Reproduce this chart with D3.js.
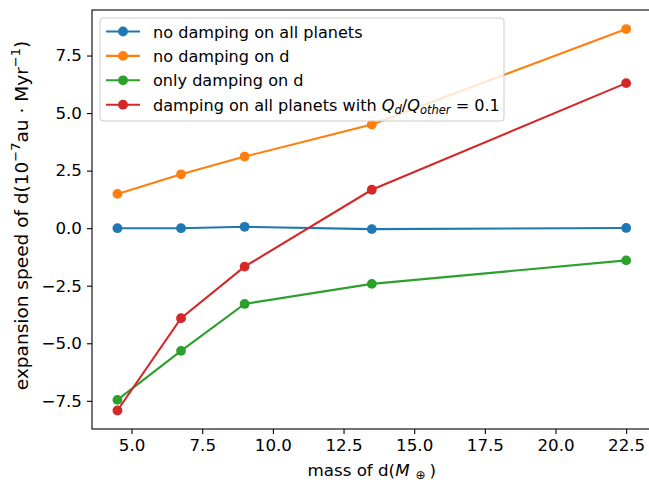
<!DOCTYPE html>
<html>
<head>
<meta charset="utf-8">
<script src="https://cdn.jsdelivr.net/npm/d3@7"></script>
<style>
  html, body { margin: 0; padding: 0; background: #fff; }
  svg { display: block; font-family: "DejaVu Sans", sans-serif; }
</style>
</head>
<body>
<svg id="chart" width="649" height="484"></svg>
<script>
const masses = [4.5, 6.75, 9, 13.5, 22.5];
const noDampAll = [0.0, 0.0, 0.06, -0.04, 0.01];
const noDampD = [1.49, 2.34, 3.11, 4.50, 8.65];
const onlyDampD = [-7.46, -5.33, -3.29, -2.42, -1.40];
const dampAll = [-7.92, -3.91, -1.67, 1.67, 6.30];
const xTicks = [5.0, 7.5, 10.0, 12.5, 15.0, 17.5, 20.0, 22.5];
const yTicks = [-7.5, -5.0, -2.5, 0.0, 2.5, 5.0, 7.5];
const seriesNames = ["no damping on all planets", "no damping on d", "only damping on d", "damping on all planets with"];
const seriesColors = ["#1f77b4", "#ff7f0e", "#2ca02c", "#d62728"];
const seriesValues = [noDampAll, noDampD, onlyDampD, dampAll];

const svg = d3.select("#chart");
const pLeft = 92, pRight = 651.6, pTop = 10, pBottom = 429;

const x = d3.scaleLinear().domain([3.6, 23.4]).range([pLeft, pRight]);
const y = d3.scaleLinear().domain([-8.724, 9.478]).range([pBottom, pTop]);

// frame
svg.append("rect").attr("x", pLeft).attr("y", pTop)
  .attr("width", pRight - pLeft).attr("height", pBottom - pTop)
  .attr("fill", "none").attr("stroke", "#000").attr("stroke-width", 1.1);

// axes
const xAxis = d3.axisBottom(x).tickValues(xTicks).tickFormat(d3.format(".1f")).tickSizeOuter(0).tickSize(5).tickPadding(5);
const gx = svg.append("g").attr("transform", `translate(0,${pBottom})`).call(xAxis);
gx.select(".domain").remove();
gx.selectAll("text").attr("font-size", 16.7).attr("font-family", "DejaVu Sans").attr("fill", "#000");
gx.selectAll("line").attr("stroke", "#000").attr("stroke-width", 1.1);

const fmtY = d => (d < 0 ? "\u2212" + d3.format(".1f")(-d) : d3.format(".1f")(d));
const yAxis = d3.axisLeft(y).tickValues(yTicks).tickFormat(fmtY).tickSizeOuter(0).tickSize(5).tickPadding(5);
const gy = svg.append("g").attr("transform", `translate(${pLeft},0)`).call(yAxis);
gy.select(".domain").remove();
gy.selectAll("text").attr("font-size", 16.7).attr("font-family", "DejaVu Sans").attr("fill", "#000");
gy.selectAll("line").attr("stroke", "#000").attr("stroke-width", 1.1);

// axis labels
const xl = svg.append("text").attr("x", (pLeft + pRight) / 2).attr("y", 476)
  .attr("text-anchor", "middle").attr("font-size", 16.7);
xl.append("tspan").text("mass of d(");
xl.append("tspan").attr("font-style", "italic").text("M");
xl.append("tspan").attr("font-size", 12).attr("dx", 6).attr("dy", 3).text("\u2295");
xl.append("tspan").attr("dx", 4).attr("dy", -3).text(")");

const yl = svg.append("text").attr("transform", `translate(28,${(pTop + pBottom) / 2 - 4}) rotate(-90)`)
  .attr("text-anchor", "middle").attr("font-size", 18.5);
yl.append("tspan").text("expansion speed of d(10");
yl.append("tspan").attr("font-size", 13).attr("dy", -8).text("\u22127");
yl.append("tspan").attr("dy", 8).text("au \u00b7 Myr");
yl.append("tspan").attr("font-size", 13).attr("dy", -8).text("\u22121");
yl.append("tspan").attr("dy", 8).text(")");

// series
const line = d3.line().x((d, i) => x(masses[i])).y(d => y(d));
seriesValues.forEach((vals, k) => {
  svg.append("path").datum(vals).attr("d", line)
    .attr("fill", "none").attr("stroke", seriesColors[k]).attr("stroke-width", 2.1);
  svg.append("g").selectAll("circle").data(vals).join("circle")
    .attr("cx", (d, i) => x(masses[i])).attr("cy", d => y(d))
    .attr("r", 4.9).attr("fill", seriesColors[k]);
});

// legend
const lg = svg.append("g");
lg.append("rect").attr("x", 100).attr("y", 18).attr("width", 404).attr("height", 103)
  .attr("rx", 3).attr("fill", "#fff").attr("fill-opacity", 0.8)
  .attr("stroke", "#cccccc").attr("stroke-width", 1);
seriesNames.forEach((name, k) => {
  const yy = 31.5 + k * 24.4;
  lg.append("line").attr("x1", 106).attr("x2", 140).attr("y1", yy).attr("y2", yy)
    .attr("stroke", seriesColors[k]).attr("stroke-width", 2.1);
  lg.append("circle").attr("cx", 123).attr("cy", yy).attr("r", 4.9).attr("fill", seriesColors[k]);
  const t = lg.append("text").attr("x", 153).attr("y", yy + 6).attr("font-size", 16.1);
  t.append("tspan").text(name);
  if (k === 3) {
    t.append("tspan").text(" ");
    t.append("tspan").attr("font-style", "italic").text("Q");
    t.append("tspan").attr("font-style", "italic").attr("font-size", 11.5).attr("dy", 3).text("d");
    t.append("tspan").attr("dy", -3).text("/");
    t.append("tspan").attr("font-style", "italic").text("Q");
    t.append("tspan").attr("font-style", "italic").attr("font-size", 11.5).attr("dy", 3).text("other");
    t.append("tspan").attr("dy", -3).text(" = 0.1");
  }
});
</script>
</body>
</html>
